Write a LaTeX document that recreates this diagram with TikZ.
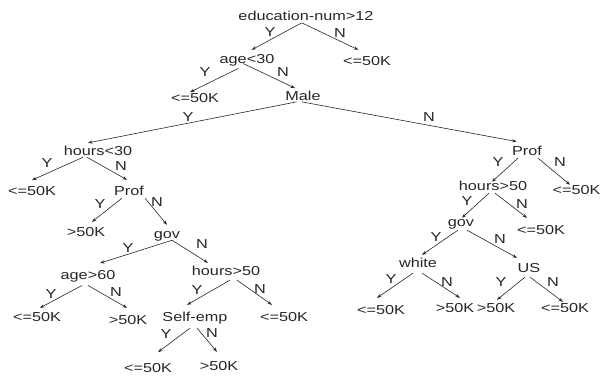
\documentclass[tikz,border=0pt]{standalone}
\usepackage{fontspec}
\setmainfont{Liberation Sans}
\usetikzlibrary{calc,arrows.meta}
\newcommand\sx[1]{\scalebox{1.25}[1]{#1}}
\newcommand\E[4]{\draw[arr] ($(#1.south)+(#2)$) -- ($(#3.north)+(#4)$);}
\begin{document}
\begin{tikzpicture}[x=1pt,y=-1pt,
  tx/.style={font=\fontsize{13}{13}\selectfont, text height=9.3pt, text depth=0pt, inner sep=1pt, text=black!85},
  arr/.style={-{Stealth[length=4.5pt,width=3.2pt]}, line width=0.6pt, draw=black!85}]
\useasboundingbox (0,0) rectangle (602,379);
% decision and leaf nodes
\node[tx] (root) at (306,16) {\sx{education-num>12}};
\node[tx] (a30) at (247,59) {\sx{age<30}};
\node[tx] (r1) at (367,61) {\sx{<=50K}};
\node[tx] (l1) at (195,98) {\sx{<=50K}};
\node[tx] (male) at (303,96) {\sx{Male}};
\node[tx] (h30) at (98,151) {\sx{hours<30}};
\node[tx] (l2) at (32,191) {\sx{<=50K}};
\node[tx] (prof1) at (129,190.5) {\sx{Prof}};
\node[tx] (g50) at (86,231.7) {\sx{>50K}};
\node[tx] (gov1) at (167,234) {\sx{gov}};
\node[tx] (a60) at (88,275.3) {\sx{age>60}};
\node[tx] (h50a) at (226,271) {\sx{hours>50}};
\node[tx] (l3) at (37,316.7) {\sx{<=50K}};
\node[tx] (g2) at (128,320) {\sx{>50K}};
\node[tx] (self) at (195,317) {\sx{Self-emp}};
\node[tx] (l4) at (284,316.7) {\sx{<=50K}};
\node[tx] (l5) at (148,368) {\sx{<=50K}};
\node[tx] (g3) at (219,366) {\sx{>50K}};
\node[tx] (prof2) at (527,151) {\sx{Prof}};
\node[tx] (h50b) at (493,186) {\sx{hours>50}};
\node[tx] (r2) at (576.5,190) {\sx{<=50K}};
\node[tx] (gov2) at (461,222) {\sx{gov}};
\node[tx] (r3) at (541,230) {\sx{<=50K}};
\node[tx] (white) at (418,262.5) {\sx{white}};
\node[tx] (us) at (529,267.5) {\sx{US}};
\node[tx] (r4) at (381,310) {\sx{<=50K}};
\node[tx] (r5) at (455,307.5) {\sx{>50K}};
\node[tx] (r6) at (496,307.5) {\sx{>50K}};
\node[tx] (r7) at (565,308) {\sx{<=50K}};
% Y / N labels
\node[tx] (y1) at (270,32) {\sx{Y}};
\node[tx] (n1) at (340,33) {\sx{N}};
\node[tx] (y2) at (205,71.7) {\sx{Y}};
\node[tx] (n2) at (283,72) {\sx{N}};
\node[tx] (y3) at (188,116.7) {\sx{Y}};
\node[tx] (n3) at (429,117) {\sx{N}};
\node[tx] (y4) at (47,163) {\sx{Y}};
\node[tx] (n4) at (121,166) {\sx{N}};
\node[tx] (y5) at (100,204) {\sx{Y}};
\node[tx] (n5) at (157,202) {\sx{N}};
\node[tx] (y6) at (128,248) {\sx{Y}};
\node[tx] (n6) at (202,244) {\sx{N}};
\node[tx] (y7) at (51,294) {\sx{Y}};
\node[tx] (n7) at (116,292) {\sx{N}};
\node[tx] (y8) at (197,290) {\sx{Y}};
\node[tx] (n8) at (260,289) {\sx{N}};
\node[tx] (y9) at (166,334) {\sx{Y}};
\node[tx] (n9) at (212,333) {\sx{N}};
\node[tx] (y10) at (498,162) {\sx{Y}};
\node[tx] (n10) at (560,162) {\sx{N}};
\node[tx] (y11) at (467,201) {\sx{Y}};
\node[tx] (n11) at (522,204) {\sx{N}};
\node[tx] (y12) at (436,237) {\sx{Y}};
\node[tx] (n12) at (500,239) {\sx{N}};
\node[tx] (y13) at (391,279) {\sx{Y}};
\node[tx] (n13) at (447,282) {\sx{N}};
\node[tx] (y14) at (501,282) {\sx{Y}};
\node[tx] (n14) at (553,282) {\sx{N}};
% edges
\E{root}{-4.3,1}{a30}{4.7,-3.35}
\E{root}{-4.3,1}{r1}{-8.7,-5.35}
\E{a30}{-8.7,3.6}{l1}{-5,0}
\E{a30}{-3.7,-1.3}{male}{-8,-2}
\E{male}{-6.3,0}{h30}{-10,-2.3}
\E{male}{-1.3,0}{prof2}{-10.3,-3.6}
\E{h30}{-15,0.4}{l2}{0,-5}
\E{h30}{-11,0.4}{prof1}{-2,-4.8}
\E{prof1}{-7,1.8}{g50}{6,-4}
\E{prof1}{16,1.8}{gov1}{0,-3.3}
\E{gov1}{5,0.4}{a60}{12,-6.3}
\E{gov1}{5,0.4}{h50a}{-18,-2.3}
\E{a60}{-6,4.3}{l3}{3,-3}
\E{a60}{0,4.3}{g2}{-1,-6.3}
\E{h50a}{4,3.3}{self}{-8,-6.3}
\E{h50a}{11,3.3}{l4}{-12,-6}
\E{self}{-5,5.3}{l5}{10,-10}
\E{self}{2,5.3}{g3}{-2,-8.3}
\E{prof2}{-9,1.3}{h50b}{-1,1.6}
\E{prof2}{11,1.3}{r2}{-6.5,0.6}
\E{h50b}{-4,1.3}{gov2}{1,1.6}
\E{h50b}{2,1.3}{r3}{-14,-6.3}
\E{gov2}{-3,2.3}{white}{4,-1.8}
\E{gov2}{6,2.3}{us}{-12,-3.8}
\E{white}{-5,4.8}{r4}{-4,-6.3}
\E{white}{4,4.8}{r5}{5,-3.8}
\E{us}{-4,3.8}{r6}{1,-1.8}
\E{us}{1,3.8}{r7}{-2,-0.3}
\end{tikzpicture}
\end{document}
